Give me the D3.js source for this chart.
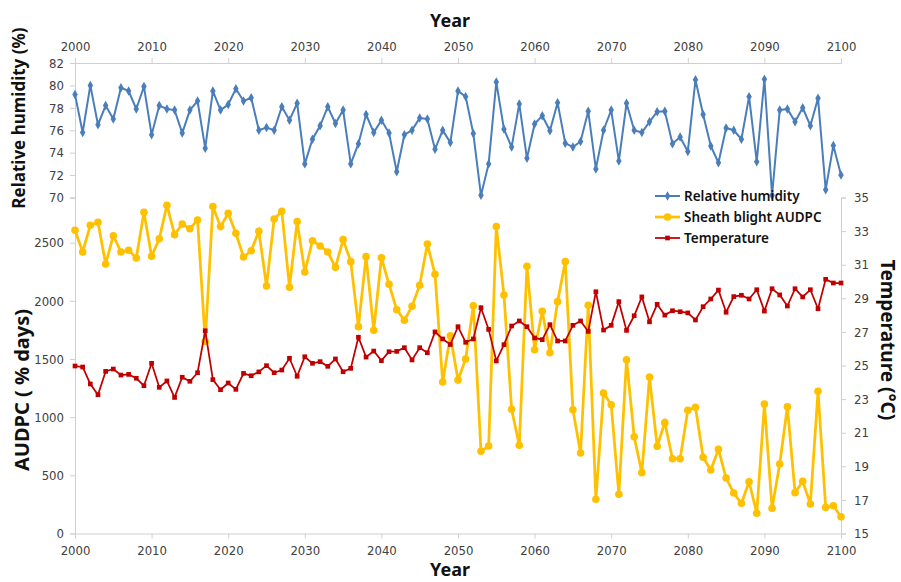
<!DOCTYPE html>
<html>
<head>
<meta charset="utf-8">
<script src="https://cdn.jsdelivr.net/npm/d3@7"></script>
<style>
  html, body { margin: 0; padding: 0; background: #fff; }
  svg { display: block; }
  .tick-label { font-family: "Liberation Sans Narrow", "DejaVu Sans Condensed", "Liberation Sans", sans-serif; font-size: 13px; fill: #404040; }
  .title { font-family: "Noto Sans", "Open Sans", sans-serif; font-weight: 700; fill: #111; }
  .legend-text { font-family: "Noto Sans", "Open Sans", sans-serif; font-size: 13.5px; font-weight: 600; fill: #111; }
</style>
</head>
<body>
<svg id="chart" width="901" height="582"></svg>
<script>
// Simulation years
const years = d3.range(2000, 2101);

// Relative humidity (%), 2000–2100
const relativeHumidity = [
  79.2, 75.8, 80.0, 76.5, 78.2, 77.0, 79.8, 79.5, 77.9, 79.9,
  75.6, 78.2, 77.9, 77.8, 75.75, 77.8, 78.6, 74.4, 79.5, 77.8,
  78.3, 79.7, 78.6, 78.9, 76.0, 76.25, 76.0, 78.1, 76.9, 78.4,
  73.0, 75.2, 76.4, 78.1, 76.6, 77.8, 73.0, 74.8, 77.4, 75.8,
  76.9, 75.75, 72.3, 75.6, 76.0, 77.1, 77.0, 74.3, 76.0, 74.9,
  79.5, 79.0, 75.7, 70.2, 73.0, 80.3, 76.1, 74.5, 78.35, 73.5,
  76.55, 77.3, 75.95, 78.45, 74.85, 74.5, 75.0, 77.7, 72.55, 76.0,
  77.8, 73.25, 78.4, 76.0, 75.8, 76.75, 77.65, 77.7, 74.8, 75.4,
  74.1, 80.5, 77.4, 74.6, 73.1, 76.2, 76.0, 75.2, 79.0, 73.2,
  80.55, 70.2, 77.8, 77.9, 76.75, 78.0, 76.4, 78.85, 70.7, 74.65,
  72.0
];

// Sheath blight AUDPC (% days), 2000–2100
const sheathBlightAUDPC = [
  2607, 2420, 2650, 2675, 2317, 2560, 2420, 2435, 2368, 2761,
  2383, 2534, 2822, 2569, 2661, 2620, 2695, 1650, 2810, 2638,
  2753, 2581, 2377, 2431, 2598, 2128, 2704, 2770, 2117, 2681,
  2248, 2517, 2472, 2420, 2288, 2526, 2337, 1778, 2380, 1747,
  2371, 2142, 1924, 1833, 1953, 2134, 2489, 2228, 1302, 1700,
  1320, 1500, 1958, 707, 752, 2638, 2050, 1068, 758, 2297,
  1580, 1910, 1554, 1993, 2337, 1064, 692, 1962, 294, 1208,
  1107, 337, 1494, 832, 523, 1345, 750, 953, 643, 643,
  1059, 1085, 655, 546, 724, 477, 348, 260, 445, 174,
  1113, 217, 597, 1090, 351, 449, 254, 1222, 225, 239,
  144
];

// Temperature (°C), 2000–2100
const temperature = [
  24.97, 24.91, 23.9, 23.26, 24.65, 24.79, 24.43, 24.47, 24.24, 23.8,
  25.13, 23.7, 24.08, 23.1, 24.3, 24.06, 24.57, 27.07, 24.16, 23.56,
  23.96, 23.58, 24.53, 24.39, 24.62, 24.99, 24.57, 24.73, 25.43, 24.36,
  25.52, 25.13, 25.23, 24.95, 25.39, 24.63, 24.83, 26.68, 25.5, 25.86,
  25.29, 25.82, 25.84, 26.06, 25.33, 26.06, 25.76, 27.0, 26.58, 26.25,
  27.31, 26.38, 26.58, 28.44, 27.15, 25.27, 26.24, 27.35, 27.65, 27.31,
  26.64, 26.54, 27.43, 26.46, 26.46, 27.39, 27.65, 27.03, 29.39, 27.11,
  27.39, 28.8, 27.09, 27.96, 29.08, 27.6, 28.64, 28.0, 28.26, 28.2,
  28.13, 27.71, 28.5, 28.96, 29.49, 28.17, 29.1, 29.18, 28.96, 29.51,
  28.24, 29.57, 29.2, 28.54, 29.57, 29.08, 29.51, 28.38, 30.13, 29.91,
  29.91
];

// Axis tick values
const yearTicks = d3.range(2000, 2101, 10);
const rhTicks = [70, 72, 74, 76, 78, 80, 82];
const audpcTicks = [0, 500, 1000, 1500, 2000, 2500];
const tempTicks = [15, 17, 19, 21, 23, 25, 27, 29, 31, 33, 35];

const legendLabels = ["Relative humidity", "Sheath blight AUDPC", "Temperature"];
const colors = { rh: "#4A7EBB", audpc: "#FFC000", temp: "#C00000" };

const svg = d3.select("#chart");

// Layout
const plotLeft = 75, plotRight = 841, plotTop = 63, bandSplit = 197.5, plotBottom = 533.5;

const x = d3.scaleLinear().domain([2000, 2100]).range([plotLeft, plotRight]);
const yRH = d3.scaleLinear().domain([70, 82]).range([bandSplit, plotTop]);
const yA = d3.scaleLinear().domain([0, 2884]).range([plotBottom, 198]);
const yT = d3.scaleLinear().domain([15, 35]).range([plotBottom, bandSplit]);

const axisColor = "#d0d0d0";
const intFormat = d3.format("d");

function styleAxis(g) {
  g.selectAll("path.domain").attr("stroke", axisColor).attr("stroke-width", 1);
  g.selectAll(".tick line").attr("stroke", axisColor);
  g.selectAll(".tick text").attr("class", "tick-label").attr("fill", "#404040");
}

// Bottom year axis
svg.append("g")
  .attr("transform", `translate(0,${plotBottom})`)
  .call(d3.axisBottom(x).tickValues(yearTicks).tickFormat(intFormat).tickSize(5).tickPadding(7))
  .call(styleAxis);

// Top year axis
svg.append("g")
  .attr("transform", `translate(0,${plotTop})`)
  .call(d3.axisTop(x).tickValues(yearTicks).tickFormat(intFormat).tickSize(5).tickPadding(7))
  .call(styleAxis);

// Left: relative humidity axis (upper band)
svg.append("g")
  .attr("transform", `translate(${plotLeft},0)`)
  .call(d3.axisLeft(yRH).tickValues(rhTicks).tickFormat(intFormat).tickSize(5).tickPadding(6))
  .call(styleAxis);

// Left: AUDPC axis (lower band)
svg.append("g")
  .attr("transform", `translate(${plotLeft},0)`)
  .call(d3.axisLeft(yA).tickValues(audpcTicks).tickFormat(intFormat).tickSize(5).tickPadding(6))
  .call(styleAxis);

// Right: temperature axis
svg.append("g")
  .attr("transform", `translate(${plotRight},0)`)
  .call(d3.axisRight(yT).tickValues(tempTicks).tickFormat(intFormat).tickSize(5).tickPadding(8))
  .call(styleAxis);

// Axis titles
svg.append("text").attr("class", "title").attr("font-size", 18)
  .attr("x", 450).attr("y", 27).attr("text-anchor", "middle").text("Year");
svg.append("text").attr("class", "title").attr("font-size", 18)
  .attr("x", 450).attr("y", 576).attr("text-anchor", "middle").text("Year");
svg.append("text").attr("class", "title").attr("font-size", 17)
  .attr("transform", "translate(25,118) rotate(-90)")
  .attr("text-anchor", "middle").text("Relative humidity (%)");
svg.append("text").attr("class", "title").attr("font-size", 20)
  .attr("transform", "translate(29,390) rotate(-90)")
  .attr("text-anchor", "middle").text("AUDPC ( % days)");
svg.append("text").attr("class", "title").attr("font-size", 19)
  .attr("transform", "translate(881,340) rotate(90)")
  .attr("text-anchor", "middle").text("Temperature (°C)");

// Series
const rhData = years.map((yr, i) => [yr, relativeHumidity[i]]);
const audpcData = years.map((yr, i) => [yr, sheathBlightAUDPC[i]]);
const tempData = years.map((yr, i) => [yr, temperature[i]]);

const diamond = d3.symbol().type(d3.symbolDiamond).size(26);
const square = d3.symbol().type(d3.symbolSquare).size(22);

// Relative humidity
svg.append("path")
  .datum(rhData)
  .attr("fill", "none").attr("stroke", colors.rh).attr("stroke-width", 2)
  .attr("d", d3.line().x(d => x(d[0])).y(d => yRH(d[1])));
svg.append("g").selectAll("path").data(rhData).join("path")
  .attr("transform", d => `translate(${x(d[0])},${yRH(d[1])})`)
  .attr("d", diamond).attr("fill", colors.rh);

// Sheath blight AUDPC
svg.append("path")
  .datum(audpcData)
  .attr("fill", "none").attr("stroke", colors.audpc).attr("stroke-width", 2.75)
  .attr("d", d3.line().x(d => x(d[0])).y(d => yA(d[1])));
svg.append("g").selectAll("circle").data(audpcData).join("circle")
  .attr("cx", d => x(d[0])).attr("cy", d => yA(d[1])).attr("r", 3.8)
  .attr("fill", colors.audpc);

// Temperature
svg.append("path")
  .datum(tempData)
  .attr("fill", "none").attr("stroke", colors.temp).attr("stroke-width", 1.75)
  .attr("d", d3.line().x(d => x(d[0])).y(d => yT(d[1])));
svg.append("g").selectAll("path").data(tempData).join("path")
  .attr("transform", d => `translate(${x(d[0])},${yT(d[1])})`)
  .attr("d", square).attr("fill", colors.temp);

// Legend
const legend = svg.append("g").attr("transform", "translate(655,196)");
const legendItems = [
  { label: legendLabels[0], color: colors.rh, width: 2, mark: "diamond" },
  { label: legendLabels[1], color: colors.audpc, width: 2.75, mark: "circle" },
  { label: legendLabels[2], color: colors.temp, width: 1.75, mark: "square" }
];
legendItems.forEach((item, i) => {
  const g = legend.append("g").attr("transform", `translate(0,${i * 21})`);
  g.append("line").attr("x1", 0).attr("x2", 25).attr("y1", 0).attr("y2", 0)
    .attr("stroke", item.color).attr("stroke-width", item.width);
  if (item.mark === "circle") {
    g.append("circle").attr("cx", 12.5).attr("cy", 0).attr("r", 3.8).attr("fill", item.color);
  } else {
    g.append("path").attr("transform", "translate(12.5,0)")
      .attr("d", item.mark === "diamond" ? diamond : square).attr("fill", item.color);
  }
  g.append("text").attr("class", "legend-text").attr("x", 29).attr("y", 5).text(item.label);
});
</script>
</body>
</html>
